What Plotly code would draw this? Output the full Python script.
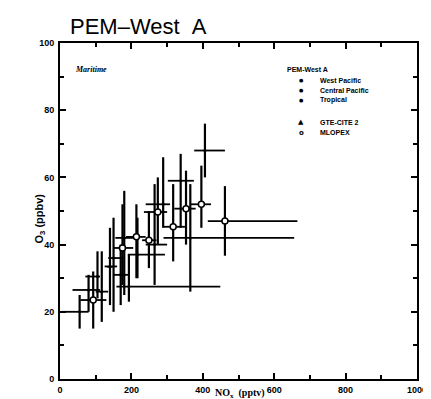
import plotly.graph_objects as go

# ---- data ----
nox    = [55, 93, 117, 80, 105, 140, 150, 170, 175, 180, 193, 214, 217, 249, 265, 274, 289, 317, 338, 353, 365, 396, 406, 462]
o3     = [20, 23.5, 26, 26.5, 30.5, 33.5, 36, 31, 39, 42, 27.5, 42.3, 37, 41.3, 40, 49.7, 52, 45.3, 59, 50.7, 42, 52, 68, 47]
nox_lo = [5, 57, 100, 35, 71, 125, 135, 150, 150, 155, 158, 185, 190, 230, 240, 235, 240, 290, 302, 320, 290, 367, 376, 414]
nox_hi = [80, 130, 135, 112, 112, 160, 175, 195, 205, 215, 449, 240, 294, 270, 300, 300, 308, 350, 375, 380, 656, 423, 462, 665]
o3_lo  = [15, 15, 17, 20, 24, 22, 20, 22, 28, 25, 23, 30, 30, 33, 28, 40, 45, 35, 45, 40, 26, 45, 60, 36.7]
o3_hi  = [25, 32, 38, 31, 38, 45, 48, 40, 52, 56, 37, 52, 48, 50, 58, 60, 66, 58, 67, 62, 58, 63.5, 76, 57.4]
group  = ["wp", "ml", "wp", "cp", "tr", "gt", "wp", "cp", "ml", "wp", "tr", "ml", "cp", "ml", "wp", "ml", "wp", "ml", "wp", "ml", "tr", "ml", "wp", "ml"]

legend_title = "PEM-West A"
legend_items = [("●", "West Pacific"), ("●", "Central Pacific"), ("●", "Tropical"),
                ("▲", "GTE-CITE 2"), ("o", "MLOPEX")]

styles = {
    "wp": dict(symbol="circle", size=3, color="black", line=dict(width=0, color="black")),
    "cp": dict(symbol="circle", size=3, color="black", line=dict(width=0, color="black")),
    "tr": dict(symbol="circle", size=3, color="black", line=dict(width=0, color="black")),
    "gt": dict(symbol="triangle-up", size=5, color="black", line=dict(width=0, color="black")),
    "ml": dict(symbol="circle", size=6, color="white", line=dict(width=1.5, color="black")),
}

fig = go.Figure()
for g in ["wp", "cp", "tr", "gt", "ml"]:
    idx = [i for i, gg in enumerate(group) if gg == g]
    if not idx:
        continue
    xs = [nox[i] for i in idx]
    ys = [o3[i] for i in idx]
    fig.add_trace(go.Scatter(
        x=xs, y=ys, mode="markers",
        marker=styles[g],
        error_x=dict(type="data", symmetric=False,
                     array=[nox_hi[i] - nox[i] for i in idx],
                     arrayminus=[nox[i] - nox_lo[i] for i in idx],
                     color="black", thickness=1.8, width=0),
        error_y=dict(type="data", symmetric=False,
                     array=[o3_hi[i] - o3[i] for i in idx],
                     arrayminus=[o3[i] - o3_lo[i] for i in idx],
                     color="black", thickness=2.2, width=0),
        showlegend=False,
    ))

tickfont = dict(family="Liberation Sans", size=9, color="black", weight="bold")
fig.update_xaxes(range=[0, 1000], tickvals=[0, 200, 400, 600, 800, 1000],
                 ticks="inside", ticklen=6, tickwidth=2, tickcolor="black",
                 minor=dict(ticks="inside", dtick=100, ticklen=4, tickwidth=1.5, tickcolor="black"),
                 showline=True, linewidth=2, linecolor="black", mirror="allticks",
                 showgrid=False, zeroline=False, tickfont=tickfont, ticklabelstandoff=1)
fig.update_yaxes(range=[0, 100], tickvals=[0, 20, 40, 60, 80, 100],
                 ticks="inside", ticklen=6, tickwidth=2, tickcolor="black",
                 minor=dict(ticks="inside", dtick=10, ticklen=4, tickwidth=1.5, tickcolor="black"),
                 showline=True, linewidth=2, linecolor="black", mirror="allticks",
                 showgrid=False, zeroline=False, tickfont=tickfont, ticklabelstandoff=2)

L, R, T, B = 52, 12, 35, 26
W, H = 431, 399
pw, ph = W - L - R, H - T - B

def px(xp):
    return (xp - L) / pw

def py(yp):
    return (H - B - yp) / ph

ann = []
ann.append(dict(x=px(60), y=py(18), xref="paper", yref="paper", xanchor="left", yanchor="middle",
                text="PEM–West\u00a0\u00a0A", showarrow=False,
                font=dict(family="Liberation Sans", size=22, color="black")))
ann.append(dict(x=px(65), y=py(62), xref="paper", yref="paper", xanchor="left", yanchor="middle",
                text="<i><b>Maritime</b></i>", showarrow=False,
                font=dict(family="Liberation Serif", size=8, color="black")))
ann.append(dict(x=px(283), y=py(62), xref="paper", yref="paper", xanchor="left", yanchor="middle",
                text="<b>" + legend_title + "</b>", showarrow=False,
                font=dict(family="Liberation Sans", size=7, color="black")))
ys_leg = [72.5, 82.5, 92.5, 114.5, 125.5]
for (sym, lab), yl in zip(legend_items, ys_leg):
    ann.append(dict(x=px(300), y=py(yl), xref="paper", yref="paper", xanchor="center", yanchor="middle",
                    text="<b>" + sym + "</b>", showarrow=False,
                    font=dict(family="DejaVu Sans", size=5 if sym == "●" else 7, color="black")))
    ann.append(dict(x=px(317), y=py(yl), xref="paper", yref="paper", xanchor="left", yanchor="middle",
                    text="<b>" + lab + "</b>", showarrow=False,
                    font=dict(family="Liberation Sans", size=7, color="black")))
ann.append(dict(x=px(237), y=py(388), xref="paper", yref="paper", xanchor="center", yanchor="middle",
                text="<b>NO<sub>x</sub>\u00a0\u00a0(pptv)</b>", showarrow=False,
                font=dict(family="Liberation Serif", size=10, color="black")))
ann.append(dict(x=px(31), y=py(212), xref="paper", yref="paper", xanchor="center", yanchor="middle",
                text="<b>O<sub>3</sub> (ppbv)</b>", showarrow=False, textangle=-90,
                font=dict(family="Liberation Sans", size=11, color="black")))

fig.update_layout(width=W, height=H, margin=dict(l=L, r=R, t=T, b=B),
                  paper_bgcolor="white", plot_bgcolor="white", annotations=ann,
                  showlegend=False)
fig.write_html("out.html")
